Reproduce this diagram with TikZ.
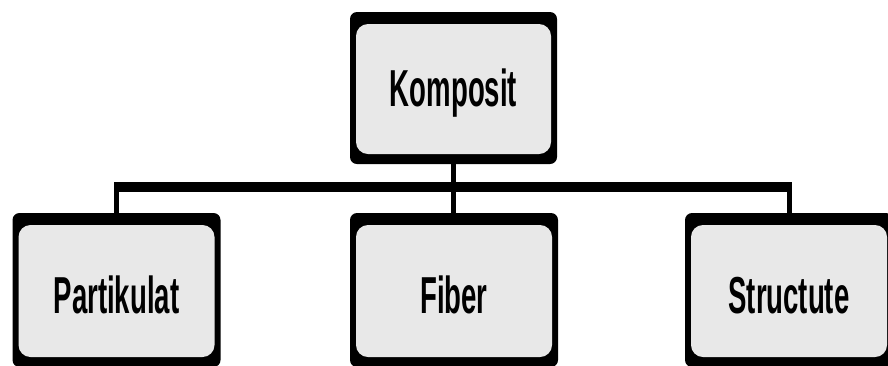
\documentclass[tikz,border=0pt]{standalone}
\usepackage{fontspec}
\setmainfont{Liberation Sans}
\newfontfamily\narrowfont[FakeStretch=0.53]{Liberation Sans}
\usetikzlibrary{backgrounds,calc}
\definecolor{boxgray}{RGB}{232,232,232}
\tikzset{
  boxnode/.style={inner sep=0pt, outer sep=0pt, align=center,
    font=\narrowfont\bfseries\fontsize{52}{52}\selectfont},
  topbox/.style={boxnode, minimum width=207pt, minimum height=152pt, text height=37pt, text depth=0pt},
  lowbox/.style={boxnode, minimum width=208pt, minimum height=154pt, text height=47pt, text depth=0pt},
  stem/.style={line width=5pt, black},
  hbar/.style={line width=10pt, black}
}
\begin{document}
\begin{tikzpicture}[x=1pt,y=-1pt]
\useasboundingbox (0,0) rectangle (888,365);
\node[topbox] (k) at (453.5,88) {Komposit};
\node[lowbox] (p) at (116.5,290) {Partikulat};
\node[lowbox] (f) at (454,290) {Fiber};
\node[lowbox] (s) at (789,290) {Structute};
\coordinate (bar) at (0,187);
\begin{scope}[on background layer]
  \foreach \n in {k,p,f,s}{
    \fill[black, rounded corners=7pt] (\n.south west) rectangle (\n.north east);
    \fill[boxgray, rounded corners=12pt] ([xshift=6pt,yshift=10pt]\n.south west) rectangle ([xshift=-6pt,yshift=-12pt]\n.north east);
  }
\end{scope}
\draw[stem] (k.south) -- (k.south |- f.north);
\draw[stem] (p.north) -- (p.north |- bar);
\draw[stem] (s.north) -- (s.north |- bar);
\draw[hbar] ($(p.north |- bar)+(-2.5,0)$) -- ($(s.north |- bar)+(2.5,0)$);
\end{tikzpicture}
\end{document}
